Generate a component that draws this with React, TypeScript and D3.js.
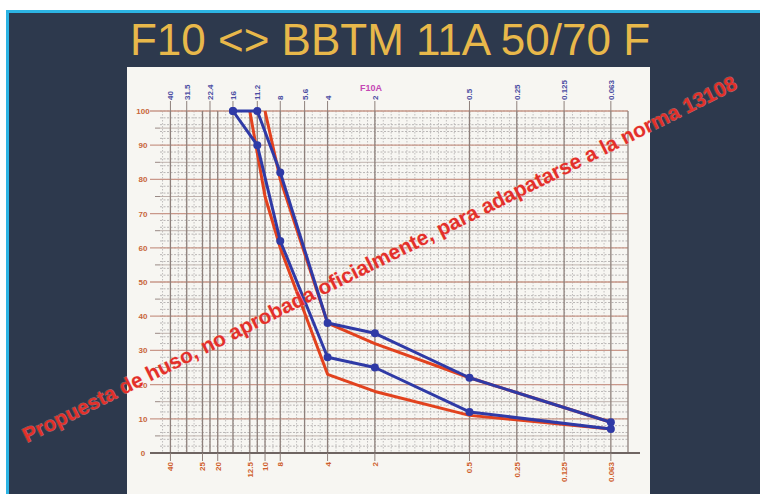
import React from "react";
import * as d3 from "d3";

const W = 760;
const H = 494;

// sieve sizes (mm) printed along the top of the grading sheet
const topSieves = [40, 31.5, 22.4, 16, 11.2, 8, 5.6, 4, 2, 0.5, 0.25, 0.125, 0.063];
const topLabels = ["40", "31.5", "22.4", "16", "11.2", "8", "5.6", "4", "2", "0.5", "0.25", "0.125", "0.063"];
// sieve sizes printed along the bottom
const bottomSieves = [40, 25, 20, 12.5, 10, 8, 4, 2, 0.5, 0.25, 0.125, 0.063];
const bottomLabels = ["40", "25", "20", "12.5", "10", "8", "4", "2", "0.5", "0.25", "0.125", "0.063"];
const yTicks = [0, 10, 20, 30, 40, 50, 60, 70, 80, 90, 100];

// blue curves (with markers)
const blueSizes = [16, 11.2, 8, 4, 2, 0.5, 0.063];
const blueUpper = [100, 100, 82, 38, 35, 22, 9];
const blueLower = [100, 90, 62, 28, 25, 12, 7];

// red envelope
const redUpperSizes = [10, 8, 4, 2, 0.5, 0.063];
const redUpper = [100, 80, 38, 32, 22, 9];
const redLowerSizes = [12.5, 10, 8, 4, 2, 0.5, 0.063];
const redLower = [100, 75, 60, 23, 18, 11, 7];

const title = "F10 <> BBTM 11A 50/70 F";
const note = "Propuesta de huso, no aprobada oficialmente, para adapatarse a la norma 13108";

export default function App() {
  const left = 160;
  const right = 628;
  const top = 111;
  const bottom = 453;

  const x = d3.scaleLog().domain([46.6, 0.049]).range([left, right]);
  const y = d3.scaleLinear().domain([0, 100]).range([bottom, top]);

  // log paper minor verticals, six per octave
  const minorX = d3.range(-1, 56).map(k => 40 * Math.pow(2, -k / 6)).filter(d => x(d) >= left && x(d) <= right);
  const minorY = d3.range(0, 101, 2);
  const majorX = Array.from(new Set([...topSieves, ...bottomSieves]));

  const line = d3.line<[number, number]>()
    .x(d => x(d[0]))
    .y(d => y(d[1]));

  const blueU = blueSizes.map((s, i) => [s, blueUpper[i]] as [number, number]);
  const blueL = blueSizes.map((s, i) => [s, blueLower[i]] as [number, number]);
  const redU = redUpperSizes.map((s, i) => [s, redUpper[i]] as [number, number]);
  const redL = redLowerSizes.map((s, i) => [s, redLower[i]] as [number, number]);

  const font = "'Liberation Sans', Arial, sans-serif";

  return (
    <svg width={W} height={H} style={{ position: "absolute", left: 0, top: 0 }} fontFamily={font}>
      {/* slide background */}
      <rect x={0} y={0} width={W} height={H} fill="#ffffff" />
      <rect x={6} y={10} width={W - 6} height={H - 10} fill="#2d394d" />
      <rect x={6} y={10} width={W - 6} height={3} fill="#2cb4e4" />
      <rect x={6} y={10} width={3} height={H - 10} fill="#2cb4e4" />

      <text x={390} y={55} textAnchor="middle" fontSize={44} fill="#e8b84a">{title}</text>

      {/* sheet */}
      <rect x={127} y={67} width={523} height={H - 67} fill="#f7f6f2" />

      {/* minor grid */}
      {minorY.map(v => (
        <line key={"my" + v} x1={left} x2={right} y1={y(v)} y2={y(v)} stroke="#a9a6a6" strokeWidth={0.8} strokeDasharray="2,1.5" />
      ))}
      {minorX.map((d, i) => (
        <line key={"mx" + i} x1={x(d)} x2={x(d)} y1={top} y2={bottom} stroke="#b3b0b0" strokeWidth={0.8} strokeDasharray="1.5,1.5" />
      ))}
      {d3.range(5, 100, 10).map(v => (
        <line key={"hy" + v} x1={left} x2={right} y1={y(v)} y2={y(v)} stroke="#b8aaa5" strokeWidth={0.9} />
      ))}
      {yTicks.map(v => (
        <line key={"gy" + v} x1={150} x2={right} y1={y(v)} y2={y(v)} stroke="#c9988a" strokeWidth={1.3} />
      ))}
      {d3.range(5, 100, 10).map(v => (
        <line key={"ty" + v} x1={155} x2={left} y1={y(v)} y2={y(v)} stroke="#9a8a85" strokeWidth={1} />
      ))}
      {majorX.map(d => (
        <line key={"gx" + d} x1={x(d)} x2={x(d)} y1={top} y2={bottom} stroke="#8e807b" strokeWidth={1.3} />
      ))}
      <line x1={right} x2={right} y1={top} y2={bottom} stroke="#8e807b" strokeWidth={1.3} />
      <line x1={150} x2={640} y1={bottom} y2={bottom} stroke="#6f6562" strokeWidth={2} />

      {/* y labels */}
      {yTicks.map(v => (
        <text key={"yl" + v} x={143} y={y(v) + 3} textAnchor="middle" fontSize={8} fontWeight="bold" fill="#c8663a">{v}</text>
      ))}

      {/* top sieve labels */}
      {topSieves.map((d, i) => (
        <g key={"tl" + d}>
          <line x1={x(d)} x2={x(d)} y1={101} y2={top} stroke="#8e807b" strokeWidth={1} />
          <text transform={`translate(${x(d) + 3},100) rotate(-90)`} fontSize={8} fontWeight="bold" fill="#4c4ea3">{topLabels[i]}</text>
        </g>
      ))}
      <text x={371} y={91} textAnchor="middle" fontSize={9} fontWeight="bold" fill="#c447b4">F10A</text>

      {/* bottom sieve labels */}
      {bottomSieves.map((d, i) => (
        <g key={"bl" + d}>
          <line x1={x(d)} x2={x(d)} y1={bottom} y2={461} stroke="#8e807b" strokeWidth={1} />
          <text transform={`translate(${x(d) + 3},462) rotate(-90)`} textAnchor="end" fontSize={8} fontWeight="bold" fill="#cf5f2c">{bottomLabels[i]}</text>
        </g>
      ))}

      {/* red envelope */}
      <path d={line(redU) || ""} fill="none" stroke="#e2421e" strokeWidth={3} strokeLinejoin="round" />
      <path d={line(redL) || ""} fill="none" stroke="#e2421e" strokeWidth={3} strokeLinejoin="round" />

      {/* blue curves */}
      {[blueU, blueL].map((pts, k) => (
        <g key={"b" + k}>
          <path d={line(pts) || ""} fill="none" stroke="#2f3aa6" strokeWidth={3} strokeLinejoin="round" />
          {pts.map((p, i) => (
            <circle key={i} cx={x(p[0])} cy={y(p[1])} r={4} fill="#2f3aa6" />
          ))}
        </g>
      ))}

      {/* diagonal note */}
      <text
        transform="translate(27,443) rotate(-26.5)"
        fontSize={20.8}
        fontWeight="bold"
        fill="#e3302a"
        stroke="rgba(255,190,180,0.4)"
        strokeWidth={1}
        paintOrder="stroke"
      >{note}</text>
    </svg>
  );
}
